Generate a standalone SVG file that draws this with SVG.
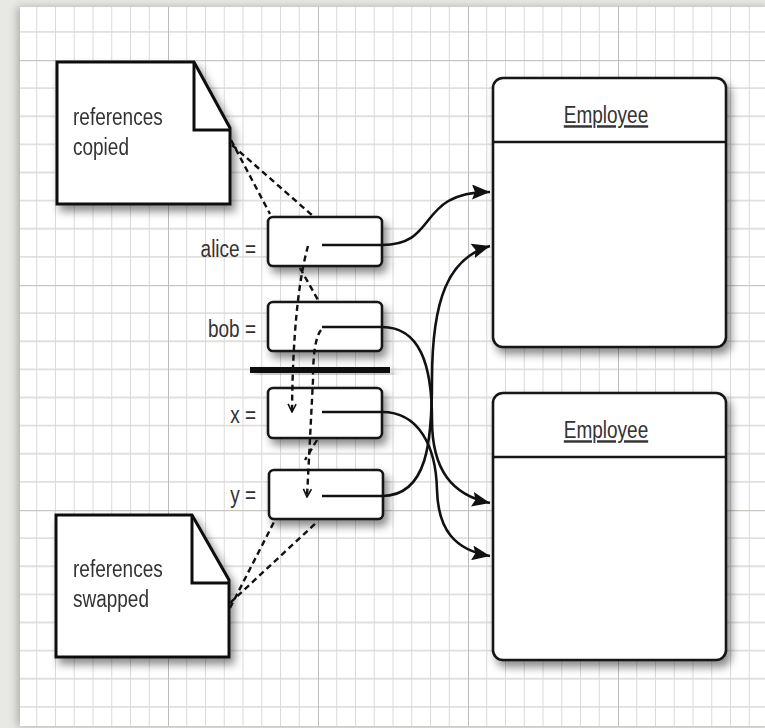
<svg xmlns="http://www.w3.org/2000/svg" width="765" height="728" viewBox="0 0 765 728">
<style>
.t{font-family:"Liberation Sans",Arial,Helvetica,sans-serif;font-size:19px;fill:#333}
.u{text-decoration:underline}
.box{fill:#fff;stroke:#151515;stroke-width:2.6}
.note{fill:#fff;stroke:#111;stroke-width:3;stroke-linejoin:miter}
.fold{fill:none;stroke:#111;stroke-width:3}
.sol{fill:none;stroke:#111;stroke-width:2.6}
.dash{fill:none;stroke:#111;stroke-width:2.4;stroke-dasharray:6 4}
</style>
<defs>
<pattern id="grid" patternUnits="userSpaceOnUse" x="18" y="60" width="150" height="225">
<g stroke="#e3e0dc" stroke-width="1.8">
<path d="M0,28.125H150M0,56.25H150M0,84.375H150M0,112.5H150M0,140.625H150M0,168.75H150M0,196.875H150"/>
</g>
<g stroke="#dadada" stroke-width="1">
<path d="M18.75,0V225M37.5,0V225M56.25,0V225M75,0V225M93.75,0V225M112.5,0V225M131.25,0V225"/>
</g>
<path d="M0,0.5H150" stroke="#c9c6c2" stroke-width="1.6"/>
<path d="M0.5,0V225" stroke="#bdbdbd" stroke-width="1"/>
</pattern>
<filter id="sh" x="-20%" y="-20%" width="150%" height="150%">
<feDropShadow dx="4" dy="6" stdDeviation="4" flood-color="#000" flood-opacity="0.45"/>
</filter>
<filter id="psh" x="-5%" y="-5%" width="110%" height="110%">
<feDropShadow dx="-3" dy="0" stdDeviation="4" flood-color="#000" flood-opacity="0.25"/>
</filter>
<marker id="arr" viewBox="0 0 18 15" refX="18" refY="7.5" markerWidth="18" markerHeight="15" markerUnits="userSpaceOnUse" orient="auto">
<path d="M0,0 L18,7.5 L0,15 L3,7.5 Z" fill="#111"/>
</marker>
<marker id="vee" viewBox="0 0 10 10" refX="9" refY="5" markerWidth="10" markerHeight="10" markerUnits="userSpaceOnUse" orient="auto">
<path d="M1,1 L9,5 L1,9" fill="none" stroke="#111" stroke-width="1.6"/>
</marker>
</defs>

<rect x="0" y="0" width="765" height="728" fill="#e8e8e5"/>
<rect x="20" y="7" width="750" height="719" fill="#fff" filter="url(#psh)"/>
<rect x="20" y="7" width="750" height="719" fill="url(#grid)"/>

<g id="note-copied" filter="url(#sh)">
<path class="note" d="M57,62 H194 L230,128 V204 H57 Z"/>
<path class="fold" d="M194,62 V130 H230"/>
<text class="t" transform="translate(73,125) scale(1,1.3)">references</text>
<text class="t" transform="translate(73,155) scale(1,1.3)">copied</text>
</g>

<g id="note-swapped" filter="url(#sh)">
<path class="note" d="M56,515 H192 L229,580 V657 H56 Z"/>
<path class="fold" d="M192,515 V583 H229"/>
<text class="t" transform="translate(73,577) scale(1,1.3)">references</text>
<text class="t" transform="translate(73,607) scale(1,1.3)">swapped</text>
</g>

<g id="var-alice">
<rect class="box" x="268" y="217" width="114" height="49" rx="5" filter="url(#sh)"/>
<text class="t" text-anchor="end" transform="translate(256,257) scale(1,1.3)">alice =</text>
</g>
<g id="var-bob">
<rect class="box" x="268" y="302" width="114" height="49" rx="5" filter="url(#sh)"/>
<text class="t" text-anchor="end" transform="translate(256,337) scale(1,1.3)">bob =</text>
</g>
<g id="var-x">
<rect class="box" x="268" y="388" width="114" height="50" rx="5" filter="url(#sh)"/>
<text class="t" text-anchor="end" transform="translate(256,423) scale(1,1.3)">x =</text>
</g>
<g id="var-y">
<rect class="box" x="269" y="470" width="114" height="49" rx="5" filter="url(#sh)"/>
<text class="t" text-anchor="end" transform="translate(256,503) scale(1,1.3)">y =</text>
</g>

<g id="separator">
<rect x="250" y="367" width="140" height="6" fill="#111" filter="url(#sh)"/>
</g>

<g id="employee-1">
<rect class="box" x="493" y="78" width="233" height="269" rx="10" filter="url(#sh)"/>
<path d="M493,142 H726" stroke="#151515" stroke-width="2.4"/>
<text class="t u" text-anchor="middle" transform="translate(606,123) scale(1,1.3)">Employee</text>
</g>
<g id="employee-2">
<rect class="box" x="493" y="393" width="233" height="267" rx="10" filter="url(#sh)"/>
<path d="M493,457 H726" stroke="#151515" stroke-width="2.4"/>
<text class="t u" text-anchor="middle" transform="translate(606,438) scale(1,1.3)">Employee</text>
</g>

<g id="connectors">
<path class="sol" d="M322,245 H382 C440,245 415,192 490,192" marker-end="url(#arr)"/>
<path class="sol" d="M322,496 H382 C428,496 432,440 432,380 C432,300 448,258 490,246" marker-end="url(#arr)"/>
<path class="sol" d="M322,327 H382 C420,327 432,365 432,420 C432,470 452,495 490,503" marker-end="url(#arr)"/>
<path class="sol" d="M322,412 H382 C418,412 436,445 437,490 C438,530 455,550 490,556" marker-end="url(#arr)"/>

<path class="dash" d="M308,246 Q293,300 292,412" marker-end="url(#vee)"/>
<path class="dash" d="M300,268 L318,300"/>
<path class="dash" d="M321,330 Q313,340 313,380 L307,497" marker-end="url(#vee)"/>
<path class="dash" d="M317,440 L305,460"/>

<path class="dash" d="M231,140 L270,214"/>
<path class="dash" d="M232,145 L313,216"/>
<path class="dash" d="M230,608 L275,520"/>
<path class="dash" d="M230,603 L317,522"/>
</g>
</svg>
